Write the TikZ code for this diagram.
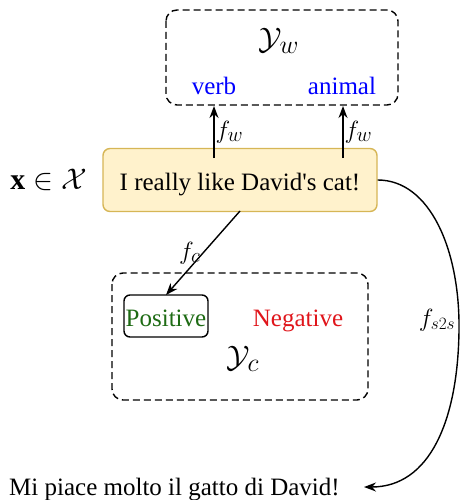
\documentclass[tikz,border=0pt]{standalone}
\usepackage{graphicx}
\usepackage{fontspec}
\setmainfont{Liberation Serif}
\newfontfamily\plainserif{Liberation Serif}
\usetikzlibrary{arrows.meta}
\definecolor{boxfill}{HTML}{FFF2CC}
\definecolor{boxdraw}{HTML}{D6B656}
\definecolor{posgreen}{HTML}{1E6B14}
\definecolor{negred}{HTML}{E0151B}
\begin{document}
\begin{tikzpicture}[x=1pt,y=-1pt,
  dbox/.style={draw,line width=1.4pt,rounded corners=11pt,dash pattern=on 7pt off 4pt},
  arr/.style={-{Stealth[length=12pt,width=9pt]},line width=1.4pt},
  txt/.style={font=\fontsize{25}{27}\selectfont,inner sep=0pt},
  bigmath/.style={font=\fontsize{24.88}{27}\selectfont,inner sep=0pt},
  lbl/.style={font=\fontsize{24.88}{27}\selectfont,inner sep=1pt}]
\useasboundingbox (0,0) rectangle (459,500);
% top box
\draw[dbox] (166,10) rectangle (398,105);
\node[bigmath] (yw) at (279,41) {\scalebox{1.25}{$\mathcal{Y}_w$}};
\node[txt,blue,anchor=base] (verb) at (214,95) {verb};
\node[txt,blue,anchor=base] (animal) at (342,95) {animal};
\coordinate (vb) at (214,106);
\coordinate (ab) at (343,106);
% input box
\node[draw=boxdraw,fill=boxfill,line width=1.4pt,rounded corners=7pt,minimum width=274pt,minimum height=63pt,inner sep=0pt] (inp) at (240,180) {};
\node[txt,anchor=base] (sent) at (240,190) {I really like David{\plainserif '}s cat!};
\node[bigmath] (x) at (49,180) {\scalebox{1.2}{$\mathbf{x}\in\mathcal{X}$}};
\draw[arr] (214,158) -- (vb) node[pos=0.5,right,lbl] {$f_w$};
\draw[arr] (343,158) -- (ab) node[pos=0.5,right,lbl] {$f_w$};
% bottom box
\draw[dbox] (112,273) rectangle (368,400);
\node[draw,line width=1.4pt,rounded corners=6pt,minimum width=84pt,minimum height=42pt,inner sep=0pt] (pos) at (166,316) {};
\node[txt,posgreen,anchor=base] (post) at (166,326) {Positive};
\node[txt,negred,anchor=base] (neg) at (298,326) {Negative};
\node[bigmath] (yc) at (243,359) {\scalebox{1.25}{$\mathcal{Y}_c$}};
\draw[arr] (240,211) -- (166,295) node[pos=0.5,left,lbl,inner sep=2pt] {$f_c$};
% output
\node[txt,anchor=base west] (out) at (9,495) {Mi piace molto il gatto di David!};
\coordinate (tip) at (364,487);
\draw[arr] (inp.east) .. controls (430,180) and (460,250) .. (459,330) .. controls (458,420) and (430,487) .. (tip);
\node[font=\fontsize{24}{26}\selectfont,inner sep=0pt] (fs) at (437,320) {$f_{s2s}$};
\end{tikzpicture}
\end{document}
